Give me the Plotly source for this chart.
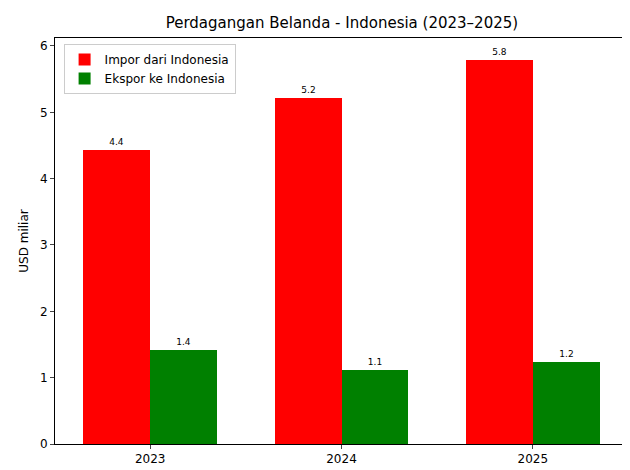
import plotly.graph_objects as go

years = ["2023", "2024", "2025"]
impor = [4.43, 5.21, 5.79]
ekspor = [1.42, 1.12, 1.24]

w = 0.35
xs = list(range(len(years)))

fig = go.Figure()
fig.add_trace(go.Bar(
    x=[x - w / 2 for x in xs], y=impor, width=w, name="Impor dari Indonesia",
    marker=dict(color="red", line=dict(width=0)),
    text=[f"{v:.1f}" for v in impor], textposition="outside",
    textfont=dict(size=9, color="black"), cliponaxis=False,
))
fig.add_trace(go.Bar(
    x=[x + w / 2 for x in xs], y=ekspor, width=w, name="Ekspor ke Indonesia",
    marker=dict(color="green", line=dict(width=0)),
    text=[f"{v:.1f}" for v in ekspor], textposition="outside",
    textfont=dict(size=9, color="black"), cliponaxis=False,
))

fig.update_layout(
    width=630, height=470,
    font=dict(family="DejaVu Sans", size=12, color="black"),
    title=dict(text="Perdagangan Belanda - Indonesia (2023–2025)", x=0.53, xanchor="center",
               y=0.98, yanchor="top", font=dict(size=15)),
    plot_bgcolor="white", paper_bgcolor="white",
    margin=dict(l=47, r=10, t=30, b=34),
    barmode="overlay", bargap=0,
    showlegend=True,
    legend=dict(x=0.015, y=0.985, xanchor="left", yanchor="top",
                bordercolor="#cccccc", borderwidth=1, bgcolor="white",
                font=dict(size=12)),
)
fig.update_xaxes(range=[-0.4975, 2.4975], tickvals=xs, ticktext=years,
                 showline=True, linecolor="black", mirror=True, ticks="outside",
                 ticklen=4, showgrid=False, zeroline=False, automargin=False)
fig.update_yaxes(range=[0, 6.12], dtick=1, title_text="USD miliar", title_standoff=8,
                 title_font=dict(size=12),
                 showline=True, linecolor="black", mirror=True, ticks="outside",
                 ticklen=4, showgrid=False, zeroline=False, automargin=False)

fig.write_html("out.html")
